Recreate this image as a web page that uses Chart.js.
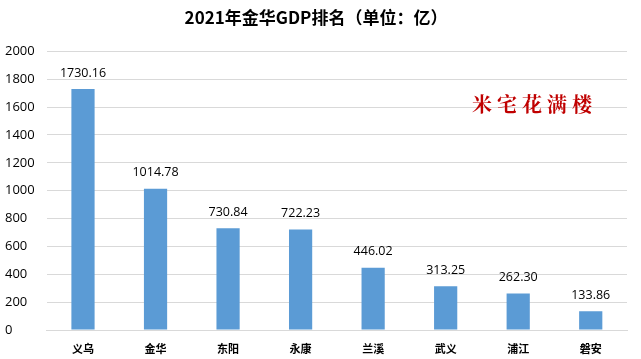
<!DOCTYPE html>
<html>
<head>
<meta charset="utf-8">
<script src="https://cdn.jsdelivr.net/npm/chart.js@4/dist/chart.umd.min.js"></script>
<style>
  html, body { margin: 0; padding: 0; background: #fff; }
  #wrap { width: 641px; height: 359px; }
</style>
</head>
<body>
<div id="wrap"><canvas id="gdp_chart"></canvas></div>
<script>
// 2021 JINHUA GDP RANKING
const cities = ['义乌', '金华', '东阳', '永康', '兰溪', '武义', '浦江', '磐安'];
const gdp = [1730.16, 1014.78, 730.84, 722.23, 446.02, 313.25, 262.30, 133.86];
const yTicks = [0, 200, 400, 600, 800, 1000, 1200, 1400, 1600, 1800, 2000];
const chartTitle = '2021年金华GDP排名（单位：亿）';
const watermark = '米宅花满楼';

// value labels above each bar
const barLabels = {
    id: 'barLabels',
    afterDatasetsDraw(chart) {
        const ctx = chart.ctx;
        const meta = chart.getDatasetMeta(0);
        ctx.save();
        ctx.font = '12.5px "Open Sans", "Noto Sans", sans-serif';
        ctx.fillStyle = '#000';
        ctx.textAlign = 'center';
        ctx.textBaseline = 'middle';
        meta.data.forEach((bar, i) => {
            ctx.fillText(gdp[i].toFixed(2), bar.x, bar.y - 16);
        });
        ctx.restore();
    }
};

// red stamp text in the upper right
const stamp = {
    id: 'stamp',
    afterDraw(chart) {
        const ctx = chart.ctx;
        const area = chart.chartArea;
        ctx.save();
        ctx.font = 'bold 20px "Noto Serif CJK SC", "Noto Sans CJK SC", serif';
        ctx.fillStyle = '#c00000';
        ctx.textAlign = 'center';
        ctx.textBaseline = 'middle';
        ctx.fillText(watermark.split('').join(' '), area.right - 95, area.top + 53);
        ctx.restore();
    }
};

const config = {
    type: 'bar',
    data: {
        labels: cities,
        datasets: [{
            data: gdp,
            backgroundColor: '#5b9bd5',
            barPercentage: 0.32,
            categoryPercentage: 1
        }]
    },
    options: {
        responsive: true,
        maintainAspectRatio: false,
        animation: false,
        layout: { padding: { left: 5, right: 14, top: 7, bottom: 0 } },
        plugins: {
            legend: { display: false },
            tooltip: { enabled: false },
            title: {
                display: true,
                text: chartTitle,
                color: '#000',
                font: { size: 17, weight: 'bold', family: '"Noto Sans CJK SC", sans-serif', lineHeight: 1.2 },
                padding: { top: 0, bottom: 24 }
            }
        },
        scales: {
            x: {
                grid: { display: false },
                border: { display: true, color: '#d9d9d9', width: 1 },
                ticks: {
                    color: '#000',
                    font: { size: 11, weight: 'bold', family: '"Noto Sans CJK SC", sans-serif', lineHeight: 1 },
                    padding: 5
                }
            },
            y: {
                min: 0,
                max: 2000,
                afterBuildTicks(axis) {
                    axis.ticks = yTicks.map(v => ({ value: v }));
                },
                grid: { color: '#d9d9d9', drawTicks: false },
                border: { display: false },
                ticks: {
                    color: '#000',
                    font: { size: 13, family: '"Open Sans", "Noto Sans", sans-serif' },
                    padding: 6,
                    crossAlign: 'far',
                    callback: value => String(value)
                }
            }
        }
    },
    plugins: [barLabels, stamp]
};

const chart = new Chart(document.getElementById('gdp_chart'), config);
</script>
</body>
</html>
